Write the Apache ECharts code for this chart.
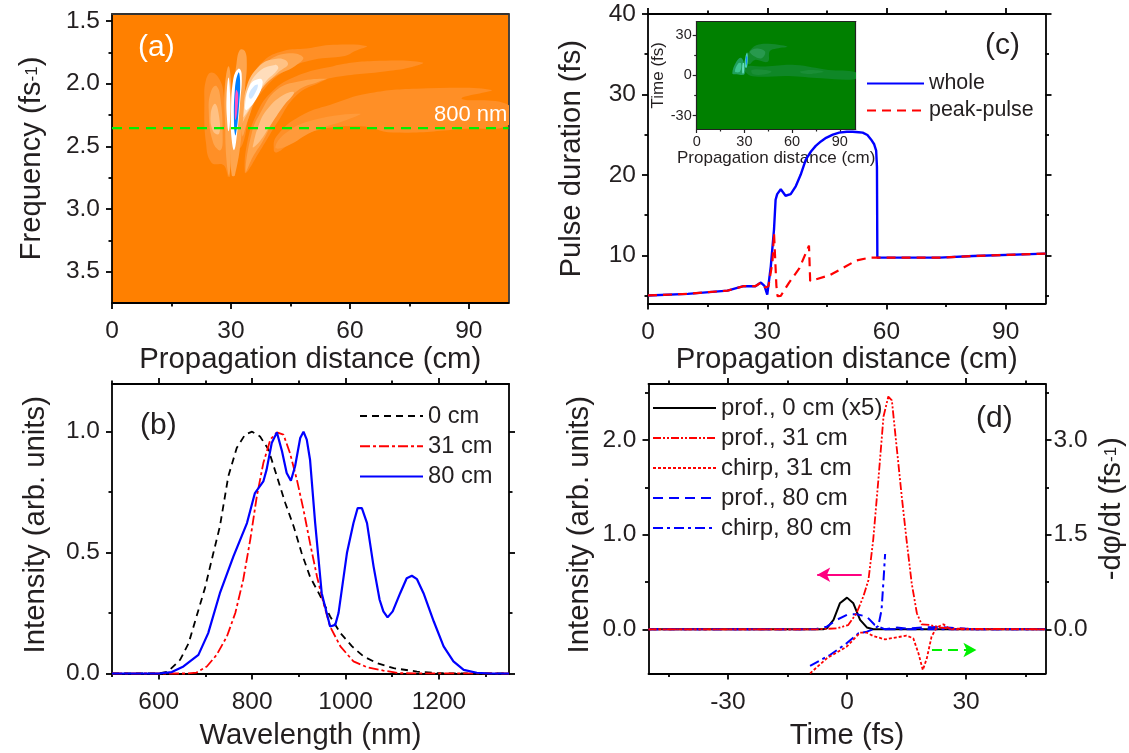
<!DOCTYPE html>
<html><head><meta charset="utf-8">
<script src="https://cdn.jsdelivr.net/npm/echarts@6/dist/echarts.min.js"></script>
<style>html,body{margin:0;padding:0;background:#fff}#c{width:1129px;height:753px}</style></head>
<body><div id="c"></div>
<script>
// ---------- Panel (a): spectrum contours, [distance cm, frequency fs^-1]
const aLeftOuter=[[23.3,2.13],[23.7,1.97],[25.1,1.91],[27.2,1.97],[28.2,2.10],[28.6,2.34],[29.2,2.74],[28.2,2.65],[25.1,2.63],[23.7,2.47]];
const aLeftMid=[[24.4,2.21],[25.1,2.05],[26.4,2.02],[27.4,2.13],[27.9,2.40],[27.4,2.53],[25.5,2.47]];
const aLeftIn=[[24.9,2.24],[26,2.16],[27,2.26],[27,2.40],[25.5,2.38]];
const aThinOuter=[[28.4,2.05],[29.4,1.86],[30.1,2.05],[30.1,2.40],[29.6,2.74],[28.9,2.62],[28.5,2.3]];
const aThinWhite=[[28.9,2.1],[29.4,1.95],[29.8,2.1],[29.8,2.28],[29.4,2.38],[29,2.28]];
const aCoreOuter=[[31.4,1.84],[32.3,1.73],[33.5,1.74],[34,1.84],[33.6,2.02],[32.7,2.40],[31,2.73],[30.2,2.73],[29.9,2.47],[30.4,2.13]];
const aCoreWhite=[[30,2.27],[30.6,1.96],[31.9,1.88],[32.7,1.92],[32.3,2.15],[31.5,2.41],[30.8,2.53],[30.2,2.45]];
const aCoreBlue=[[30.8,2.35],[31,2.04],[31.9,1.91],[32.3,1.97],[32.1,2.15],[31.2,2.41]];
const aCorePink=[[31,2.18],[31.3,2.05],[31.8,2.08],[31.5,2.24],[31.1,2.29]];
const aArc1=[[32.3,2.51],[33.1,2.24],[35.2,1.97],[38.2,1.82],[43.2,1.74],[49.1,1.72],[55.8,1.69],[64.2,1.70],[61.3,1.74],[58.7,1.78],[50.8,1.81],[44,1.89],[38.2,2.05],[34.8,2.24],[33.3,2.45]];
const aArc2=[[32.9,2.42],[33.4,2.20],[35.6,1.97],[39,1.83],[44,1.76],[48.2,1.79],[46.1,1.86],[40.7,1.95],[36.9,2.08],[34.4,2.28]];
const aArc3=[[32.3,2.33],[33.5,2.07],[36.8,1.87],[41.9,1.80],[44.4,1.84],[41.9,1.91],[37.8,2.04],[34.3,2.23]];
const aArc4=[[32.7,2.27],[34,2.07],[36.8,1.91],[41.1,1.85],[41.9,1.88],[38.6,1.99],[35.3,2.17]];
const aArcWhite=[[33.5,2.19],[34.8,2.01],[37.3,1.96],[38,1.99],[36.6,2.11],[34,2.21]];
const aArcBlue=[[34.5,2.09],[35.8,2.02],[36.8,2.01],[36,2.08],[35,2.12]];
const aBand1=[[33.5,2.71],[34.1,2.47],[36.5,2.24],[39.8,2.08],[45.7,1.95],[55.8,1.86],[65.9,1.82],[78.3,1.83],[75.1,1.87],[69.2,1.90],[55.8,1.95],[52.4,1.99],[46.6,2.09],[41.5,2.32],[39,2.45],[36.5,2.58],[34.4,2.69]];
const aBand2=[[33.7,2.70],[35.2,2.40],[37.3,2.24],[41.5,2.05],[47.4,1.98],[54.1,1.96],[52.4,1.98],[46.6,2.06],[41.5,2.25],[38.2,2.45],[35.6,2.58]];
const aBand3=[[35.5,2.50],[36.9,2.34],[39,2.21],[43.2,2.09],[45.9,2.07],[43.2,2.18],[39.8,2.34],[37.3,2.46],[35.6,2.51]];
const aTail1=[[40.8,2.53],[41.5,2.42],[47.4,2.26],[55.8,2.16],[64.2,2.08],[76.8,2.04],[95.7,2.05],[88.2,2.12],[100,2.17],[100,2.33],[89.4,2.36],[70.9,2.39],[62.5,2.34],[50.8,2.38],[44,2.50],[41.5,2.55]];
const aTail2=[[41.2,2.51],[44,2.39],[50.8,2.29],[62.5,2.24],[59.2,2.29],[50.8,2.38],[44,2.50]];
const aLine800=[[0,2.355],[100,2.355]];
const aLevel=['#FF8F26','#FFA54D','#FFC183','#FFDDBB','#FFFFFF','#CFE6FF','#0080FF','#FF50C0'];
const aContours=[[aTail1,0],[aTail2,0.5],[aBand1,0],[aBand2,1],[aBand3,2],[aArc1,0],[aArc2,1],[aArc3,2],[aArc4,3],[aArcWhite,4],[aArcBlue,5],
 [aLeftOuter,0],[aLeftMid,1],[aLeftIn,2],[aThinOuter,1],[aThinWhite,4],[aCoreOuter,1],[aCoreWhite,4],[aCoreBlue,6],[aCorePink,7]];

// ---------- Panel (b): spectra, [wavelength nm, intensity]
const b0cm=[[500,0],[600,0],[620,.008],[646,.057],[664,.125],[681,.236],[699,.353],[717,.498],[731,.608],[749,.815],[767,.932],[785,.988],[800,1],[817,.98],[835,.926],[853,.815],[871,.705],[889,.608],[906,.498],[924,.40],[946,.32],[967,.236],[989,.167],[1014,.112],[1039,.07],[1067,.043],[1103,.022],[1153,.008],[1200,.001],[1350,0]];
const b31cm=[[500,0],[660,0],[681,.004],[703,.029],[724,.077],[746,.153],[764,.25],[781,.388],[796,.553],[810,.732],[824,.87],[839,.967],[853,.997],[867,.988],[881,.912],[896,.80],[910,.677],[924,.539],[939,.40],[953,.29],[967,.194],[989,.112],[1017,.05],[1046,.026],[1081,.012],[1117,.001],[1350,0]];
const b80cm=[[500,0],[600,0],[628,.006],[653,.029],[685,.077],[706,.167],[731,.332],[760,.484],[789,.622],[806,.746],[824,.794],[831,.843],[842,.953],[853,.997],[864,.919],[874,.829],[883,.797],[892,.857],[903,.974],[910,1],[917,.967],[924,.884],[935,.622],[949,.332],[967,.194],[978,.201],[985,.25],[1003,.498],[1017,.622],[1026,.684],[1035,.684],[1046,.622],[1060,.443],[1073,.305],[1081,.257],[1090,.232],[1101,.257],[1117,.332],[1131,.394],[1142,.404],[1153,.39],[1167,.332],[1189,.215],[1210,.112],[1231,.05],[1253,.015],[1281,.003],[1310,0],[1350,0]];

// ---------- Panel (c): pulse duration, [distance cm, fs]
const cWhole=[[0,5],[10,5.2],[20,5.6],[24,6.15],[27,6.15],[28.4,6.6],[29.3,6.2],[30,5.1],[30.9,8.65],[31.7,13.2],[32.1,16.9],[32.5,17.6],[33.4,18.2],[34.6,17.4],[35.9,17.6],[37.2,18.6],[38.4,20],[39.7,21.9],[41,22.9],[42.2,23.6],[43.5,24.15],[44.8,24.6],[46.5,25],[48.1,25.25],[50,25.35],[51.5,25.35],[53,25.3],[54,25.25],[55.2,24.95],[56.1,24.4],[56.9,23.8],[57.4,23],[57.6,21],[57.7,9.7],[58.2,9.7],[73.4,9.7],[81.8,9.9],[100,10.2]];
const cPeak=[[0,5],[10,5.2],[20,5.6],[24,6.15],[27,6.15],[28.4,6.6],[29.5,6],[30.3,6.15],[31.3,9.1],[31.7,12.8],[32.3,6.2],[32.6,4.9],[33.4,4.95],[35.5,6.6],[38.1,8.4],[40.5,11.2],[40.8,6.8],[45.6,7.5],[49,8.4],[52.4,9.35],[55.7,9.7],[73.4,9.7],[81.8,9.9],[100,10.2]];
// inset: [distance cm, time fs]
const iBand=[[30.4,6.5],[43,6.5],[61.8,7.7],[82.8,4],[100,2.2],[100,-2.7],[78.6,-2.2],[57.7,-.5],[36.7,-1],[31.4,1.5]];
const iBandA=[[34.6,4],[43,4],[47.2,2.7],[43,.7],[35.6,.7]];
const iBandB=[[65,2.7],[72.3,4],[80,2.7],[72.3,1],[66,1.5]];
const iUpper=[[31.4,12.7],[34.6,20],[40.9,23.3],[57,21.3],[50.3,20],[46,18],[44.7,10],[36.7,11.4],[32.9,8.2]];
const iUpperIn=[[33.5,17.6],[37.7,20],[43,17.6],[40.9,12.7],[35.6,14.6]];
const iLeft=[[22.4,1.5],[25,10.2],[27.9,13],[30,7.7],[30,.7],[25.2,.7]];
const iLeftIn=[[24.1,2.7],[26.2,8.9],[27.9,8.9],[27.2,2.7]];
const iStripe=[[28.7,1.5],[28.9,8.9],[29.8,8.9],[29.6,1.5]];
const iCore=[[30.2,6.5],[30.7,13.9],[31.7,16.9],[32.2,12.7],[31.5,5.7]];
const iCoreIn=[[31,8.5],[31.1,14],[31.8,13.5],[31.3,7.5]];
const iContours=[[iBand,'#0F8727'],[iBandA,'#1A8E36'],[iBandB,'#1A8E36'],[iUpper,'#138A2C'],[iUpperIn,'#28994E'],[iLeft,'#1F9F5C'],[iLeftIn,'#3FC690'],[iStripe,'#66DDBE'],[iCore,'#48D0B8'],[iCoreIn,'#1088FF']];

// ---------- Panel (d): [time fs, value]
const dProf0=[[-50,0],[-6,0],[-5.1,.01],[-3.4,.10],[-1.8,.275],[0,.335],[1.6,.275],[3.3,.10],[5,.02],[6.6,0],[50,0]];
const dProf31=[[-50,0],[-7.6,0],[-2.6,.01],[.3,.045],[2.4,.17],[4.1,.345],[5.4,.52],[6.6,.945],[7.9,1.58],[9.2,2.25],[10.4,2.46],[11.3,2.42],[12.5,1.93],[13.8,1.40],[15,.945],[16.3,.486],[17.6,.17],[18.8,.053],[20.9,.046],[23.4,.02],[26,.007],[50,0]];
const dChirp31=[[-50,0],[-9.4,0],[null,null],[-9.3,-.698],[-5.1,-.46],[-.1,-.275],[3.3,-.053],[5,-.053],[6.6,-.106],[9.6,-.159],[12.5,-.127],[15,-.10],[16.7,-.143],[18,-.38],[19.1,-.645],[20.1,-.46],[21.3,-.116],[22.6,.032],[24.3,.08],[26,0],[50,0]];
const dProf80=[[-50,0],[-8,0],[-5.1,.028],[-2.6,.10],[.3,.16],[2.4,.16],[5,.134],[7,.046],[9.6,0],[12.5,.018],[15,.007],[19.2,.02],[23.4,.025],[28.5,.01],[31.8,0],[50,0]];
const dChirp80=[[-50,0],[-9.4,0],[null,null],[-9.3,-.58],[-4.3,-.407],[-.1,-.222],[2.9,-.063],[5,-.037],[6.6,0],[7.9,.053],[8.7,.307],[9.2,.78],[9.6,1.195],[null,null],[9.7,0],[50,0]];
const dArrowLeft=[[3.7,.577],[-7.5,.577]];
const dArrowRight=[[21.4,-.219],[32.6,-.219]];

// ---------- Tick values
const distTicks=[0,30,60,90], distMinor=[15,45,75];
const freqTicks=[1.5,2,2.5,3,3.5], freqMinor=[1.75,2.25,2.75,3.25];
const wlTicks=[600,800,1000,1200], wlMinor=[500,700,900,1100,1300];
const intTicks=[0,.5,1], intMinor=[.25,.75];
const durTicks=[10,20,30,40], durMinor=[5,15,25,35];
const timeTicks=[-30,0,30], timeMinor=[-45,-15,15,45];
const dIntTicks=[0,1,2], dIntMinor=[.5,1.5,2.5];
const dChirpTicks=[0,1.5,3], dChirpMinor=[.75,2.25,3.75];
const insetYTicks=[-30,0,30], insetYMinor=[-15,15];

const FONT='"Liberation Sans",Arial,sans-serif', INK='#231F20';
const xAxis=[], yAxis=[];
function addAxis(list,o){
  const c=o.color||'#000', w=o.lw||1.8, fs=o.fs||24.5;
  const idx=list.length;
  list.push({type:'value',gridIndex:o.g,position:o.pos,min:o.min,max:o.max,inverse:!!o.inv,splitLine:{show:false},
    axisLine:{show:true,onZero:false,lineStyle:{color:c,width:w}},
    axisTick:{show:!!o.ticks,customValues:o.ticks||[],length:o.tl||6,lineStyle:{color:c,width:w}},
    axisLabel:{show:!!o.labels,customValues:o.labels?o.ticks:[],fontSize:fs,fontFamily:FONT,color:o.lc||INK,margin:o.margin||10,
      formatter:v=>o.dec?v.toFixed(o.dec):String(v)},
    name:o.name||'',nameLocation:'middle',nameGap:o.gap||0,nameRotate:o.rot,
    nameTextStyle:Object.assign({fontSize:o.nfs||29.3,fontFamily:FONT,color:o.lc||INK},o.nstyle||{})});
  if(o.minor) list.push({type:'value',gridIndex:o.g,position:o.pos,min:o.min,max:o.max,inverse:!!o.inv,splitLine:{show:false},
    axisLine:{show:false,onZero:false},axisTick:{show:true,customValues:o.minor,length:o.ml||3.5,lineStyle:{color:c,width:w}},axisLabel:{show:false}});
  return idx;
}
const sup={t:{fontSize:29.3,fontFamily:FONT,color:INK,height:36},s:{fontSize:17,fontFamily:FONT,color:INK,verticalAlign:'top',height:36,lineHeight:18}};
const grid=[
 {left:112,top:14,width:396.5,height:289,show:true,backgroundColor:'#FF8000',borderWidth:0,outerBoundsMode:'none'},
 {left:112,top:384,width:397,height:289.5,outerBoundsMode:'none'},
 {left:648,top:14,width:397.5,height:289.5,outerBoundsMode:'none'},
 {left:648.5,top:384,width:397,height:289.5,outerBoundsMode:'none'},
 {left:696.7,top:21.5,width:159,height:107.5,show:true,backgroundColor:'#008000',borderWidth:0,outerBoundsMode:'none'}
];
// (a)
const ax0=addAxis(xAxis,{g:0,pos:'bottom',min:0,max:100,ticks:distTicks,minor:distMinor,labels:true,margin:16,name:'Propagation distance (cm)',gap:42});
addAxis(xAxis,{g:0,pos:'top',min:0,max:100,color:'#333'});
const ay0=addAxis(yAxis,{g:0,pos:'left',min:1.444,max:3.75,inv:true,ticks:freqTicks,minor:freqMinor,labels:true,dec:1,margin:12,
  name:'{t|Frequency (fs}{s|-1}{t|)}',gap:62,rot:90,nstyle:{rich:sup}});
addAxis(yAxis,{g:0,pos:'right',min:1.444,max:3.75,inv:true,color:'#333'});
// (b)
const ax1=addAxis(xAxis,{g:1,pos:'bottom',min:500,max:1350,ticks:wlTicks,minor:wlMinor,labels:true,margin:16,name:'Wavelength (nm)',gap:48});
addAxis(xAxis,{g:1,pos:'top',min:500,max:1350,ticks:wlTicks,minor:wlMinor});
const ay1=addAxis(yAxis,{g:1,pos:'left',min:0,max:1.197,ticks:intTicks,minor:intMinor,labels:true,dec:1,margin:12,name:'Intensity (arb. units)',gap:62,rot:90,nstyle:{padding:[0,0,0,8]}});
addAxis(yAxis,{g:1,pos:'right',min:0,max:1.197,ticks:intTicks,minor:intMinor});
// (c)
const ax2=addAxis(xAxis,{g:2,pos:'bottom',min:0,max:100,ticks:distTicks,minor:distMinor,labels:true,margin:16,name:'Propagation distance (cm)',gap:42});
addAxis(xAxis,{g:2,pos:'top',min:0,max:100,ticks:distTicks,minor:distMinor});
const ay2=addAxis(yAxis,{g:2,pos:'left',min:4,max:40,ticks:durTicks,minor:durMinor,labels:true,margin:12,name:'Pulse duration (fs)',gap:62,rot:90});
addAxis(yAxis,{g:2,pos:'right',min:4,max:40,ticks:durTicks,minor:durMinor});
// (d)
const ax3=addAxis(xAxis,{g:3,pos:'bottom',min:-50,max:50,ticks:timeTicks,minor:timeMinor,labels:true,margin:16,name:'Time (fs)',gap:48});
addAxis(xAxis,{g:3,pos:'top',min:-50,max:50,ticks:timeTicks,minor:timeMinor});
const ay3=addAxis(yAxis,{g:3,pos:'left',min:-.467,max:2.593,ticks:dIntTicks,minor:dIntMinor,labels:true,dec:1,margin:12,name:'Intensity (arb. units)',gap:54,rot:90,nstyle:{padding:[0,0,0,8]}});
const ay3r=addAxis(yAxis,{g:3,pos:'right',min:-.70,max:3.89,ticks:dChirpTicks,minor:dChirpMinor,labels:true,dec:1,margin:8,
  name:'{t|-d\u03C6/dt (fs}{s|-1}{t|)}',gap:48,rot:90,nstyle:{rich:sup,padding:[0,0,0,40]}});
// inset
const ax4=addAxis(xAxis,{g:4,pos:'bottom',min:0,max:100,ticks:distTicks,minor:distMinor,labels:true,fs:14.5,tl:4,ml:2.5,lw:1.2,margin:5,color:'#222',name:'Propagation distance (cm)',nfs:17,gap:19});
addAxis(xAxis,{g:4,pos:'top',min:0,max:100,lw:1.2,color:'#222'});
const ay4=addAxis(yAxis,{g:4,pos:'left',min:-40,max:40,ticks:insetYTicks,minor:insetYMinor,labels:true,fs:14.5,tl:4,ml:2.5,lw:1.2,margin:5,color:'#222',name:'Time (fs)',nfs:17,gap:23,rot:90});
addAxis(yAxis,{g:4,pos:'right',min:-40,max:40,lw:1.2,color:'#222'});

function contourSeries(list,xi,yi,colorOf,smooth,z){
  return {type:'custom',xAxisIndex:xi,yAxisIndex:yi,coordinateSystem:'cartesian2d',clip:true,silent:true,z:z,
    data:list.map(c=>c[0][0]),
    encode:{x:0,y:1},
    renderItem:(p,api)=>{
      const c=list[p.dataIndex];
      return {type:'polygon',shape:{points:c[0].map(q=>api.coord(q)),smooth:smooth},style:{fill:colorOf(c[1])}};
    }};
}
function line(name,data,xi,yi,color,width,dash,extra){
  return Object.assign({name,type:'line',data,xAxisIndex:xi,yAxisIndex:yi,symbol:'none',clip:false,smooth:false,connectNulls:false,
    animation:false,lineStyle:{color,width,type:dash||'solid'},itemStyle:{color},z:5},extra||{});
}
function arrow(pts,color,dash){
  return {type:'line',data:[],xAxisIndex:ax3,yAxisIndex:ay3,silent:true,symbol:'none',
    markLine:{silent:true,animation:false,symbol:['none','arrow'],symbolSize:[11,13],label:{show:false},
      lineStyle:{color,width:2,type:dash||'solid'},data:[[{coord:pts[0]},{coord:pts[1]}]]}};
}
const aColor=l=>l===0.5?'#FF9A3A':aLevel[l];
const series=[
 contourSeries(aContours,ax0,ay0,aColor,0.45,2),
 line('800 nm line',aLine800,ax0,ay0,'#00F000',2.2,[10,7]),
 line('0 cm',b0cm,ax1,ay1,'#000',1.8,[7,5]),
 line('31 cm',b31cm,ax1,ay1,'#FF0000',1.8,[10,3,3,3]),
 line('80 cm',b80cm,ax1,ay1,'#0000FF',2.2),
 line('whole',cWhole,ax2,ay2,'#0000FF',2.4),
 line('peak-pulse',cPeak,ax2,ay2,'#FF0000',2.2,[9,6]),
 contourSeries(iContours,ax4,ay4,c=>c,0.4,2),
 line('prof., 0 cm (x5)',dProf0,ax3,ay3,'#000',2),
 line('chirp, 80 cm',dChirp80,ax3,ay3r,'#0000FF',2,[10,4,3,4]),
 line('prof., 80 cm',dProf80,ax3,ay3,'#0000FF',2,[10,6]),
 line('prof., 31 cm',dProf31,ax3,ay3,'#FF0000',1.8,[8,2,2,2,2,2]),
 line('chirp, 31 cm',dChirp31,ax3,ay3r,'#FF0000',1.8,[3,2]),
 arrow(dArrowLeft,'#FF0080'),
 arrow(dArrowRight,'#00F000',[10,6])
];
const legendBase={orient:'vertical',selectedMode:false,padding:0,itemHeight:12,itemStyle:{opacity:0}};
const legend=[
 Object.assign({},legendBase,{left:359,top:404,itemWidth:63,itemGap:6.3,textStyle:{fontFamily:FONT,fontSize:23.7,color:INK},data:['0 cm','31 cm','80 cm']}),
 Object.assign({},legendBase,{left:866,top:73,itemWidth:57,itemGap:6,textStyle:{fontFamily:FONT,fontSize:21.4,color:INK},data:['whole','peak-pulse']}),
 Object.assign({},legendBase,{left:652,top:396,itemWidth:63,itemGap:6,textStyle:{fontFamily:FONT,fontSize:24,color:INK},data:['prof., 0 cm (x5)','prof., 31 cm','chirp, 31 cm','prof., 80 cm','chirp, 80 cm']})
];
function tag(text,x,y,fs,fill){return {type:'text',left:x,top:y,z:50,style:{text,fontSize:fs,fontFamily:FONT,fill}};}
const graphic=[tag('(a)',138,33,30,'#fff'),tag('800 nm',434,104,22,'#fff'),tag('(b)',140,411,30,INK),tag('(c)',985,31,30,INK),tag('(d)',976,404,30,INK)];
const chart=echarts.init(document.getElementById('c'),null,{renderer:'canvas'});
chart.setOption({animation:false,backgroundColor:'#fff',grid,xAxis,yAxis,series,legend,graphic,tooltip:{show:false}});
</script></body></html>
